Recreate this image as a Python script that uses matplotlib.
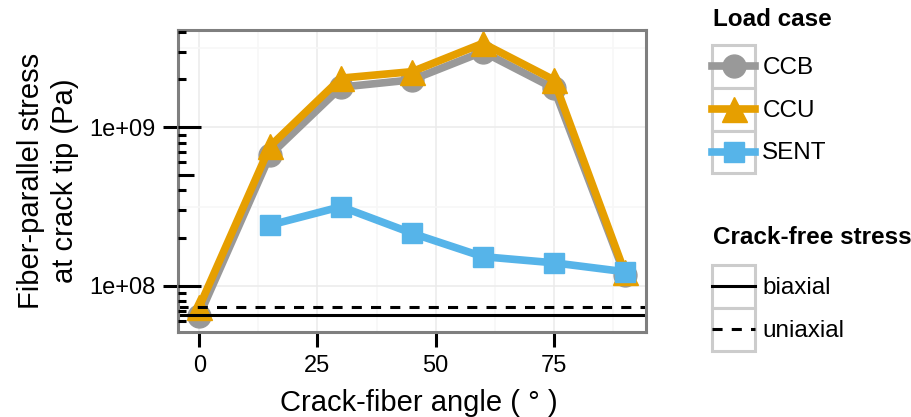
import numpy as np
import matplotlib
matplotlib.use("Agg")
import matplotlib.pyplot as plt
from matplotlib.lines import Line2D
from matplotlib.patches import Rectangle
from matplotlib.legend_handler import HandlerLine2D
from matplotlib.ticker import FixedLocator, FixedFormatter

plt.rcParams['font.family'] = ['Liberation Sans', 'DejaVu Sans']

# Data
angles = [0, 15, 30, 45, 60, 75, 90]
ccb = [6.5e7, 6.7e8, 1.79e9, 1.99e9, 2.99e9, 1.76e9, 1.18e8]
ccu = [7.4e7, 7.6e8, 2.04e9, 2.24e9, 3.38e9, 1.99e9, 1.22e8]
sent_angles = [15, 30, 45, 60, 75, 90]
sent = [2.42e8, 3.16e8, 2.15e8, 1.53e8, 1.40e8, 1.23e8]

load_cases = ["CCB", "CCU", "SENT"]
free_labels = ["biaxial", "uniaxial"]
free_stress = [6.57e7, 7.4e7]

x_ticks = [0, 25, 50, 75]
y_ticks = [1e8, 1e9]
y_ticklabels = ["1e+08", "1e+09"]

col_ccb = "#999999"
col_ccu = "#E69F00"
col_sent = "#56B4E9"


class BoxedLine(HandlerLine2D):
    # ggplot-like legend key: white box with grey border, line centred in it
    def create_artists(self, legend, orig_handle, xdescent, ydescent,
                       width, height, fontsize, trans):
        arts = super().create_artists(legend, orig_handle, xdescent, ydescent,
                                      width, height - ydescent, fontsize, trans)
        box = Rectangle((-xdescent, -ydescent), width, height, facecolor="white",
                        edgecolor="#cccccc", lw=2.2, transform=trans)
        return [box] + list(arts)


fig = plt.figure(figsize=(9.12, 4.17), dpi=100)
ax = fig.add_axes([178 / 912, 1 - 332 / 417, 468 / 912, 302 / 417])

ax.set_yscale("log")
ax.set_xlim(-4.5, 94.5)
ax.set_ylim(5.13e7, 4.1e9)

lw = 5.5
ax.plot(angles, ccb, color=col_ccb, lw=lw, marker="o", ms=16.5, zorder=3)
ax.plot(angles, ccu, color=col_ccu, lw=lw, marker="^", ms=18, zorder=4)
ax.plot(sent_angles, sent, color=col_sent, lw=lw, marker="s", ms=14.5, zorder=5)

ax.axhline(free_stress[0], color="black", lw=2.2, zorder=6)
ax.axhline(free_stress[1], color="black", lw=2.2, dashes=(3.3, 3), zorder=6)

# grid
ax.xaxis.set_major_locator(FixedLocator(x_ticks))
ax.xaxis.set_minor_locator(FixedLocator([12.5, 37.5, 62.5, 87.5]))
ax.yaxis.set_major_locator(FixedLocator(y_ticks))
ax.yaxis.set_major_formatter(FixedFormatter(y_ticklabels))
ax.yaxis.set_minor_locator(FixedLocator([10 ** 7.5, 10 ** 8.5, 10 ** 9.5]))
ax.grid(which="major", color="#ebebeb", lw=1.1)
ax.grid(which="minor", color="#f7f7f7", lw=1.1)
ax.set_axisbelow(True)

ax.tick_params(which="minor", length=0)
ax.tick_params(which="major", direction="out", length=10.5, width=2.2,
               color="black", labelsize=17)
ax.tick_params(axis="x", pad=6)
ax.tick_params(axis="y", pad=6)

for sp in ax.spines.values():
    sp.set_color("#7f7f7f")
    sp.set_linewidth(2.2)
    sp.set_zorder(10)

# log ticks on the left side (inside the panel)
ytr = ax.get_yaxis_transform()
pw = 468.0
for d in range(7, 10):
    for k in range(1, 10):
        v = k * 10 ** d
        if v < 5.13e7 or v > 4.1e9:
            continue
        L = 23 if k == 1 else (16 if k == 5 else 8)
        ax.plot([0, L / pw], [v, v], transform=ytr, color="black", lw=2.2,
                solid_capstyle="butt", clip_on=False, zorder=11)

ax.set_xlabel("Crack-fiber angle ( ° )", fontsize=21)
ax.xaxis.set_label_coords(0.515, -0.19)
ax.set_ylabel("Fiber-parallel stress\nat crack tip (Pa)", fontsize=21,
              labelpad=7, linespacing=1.3)

# legends
h1 = [Line2D([], [], color=col_ccb, lw=lw, marker="o", ms=16.5),
      Line2D([], [], color=col_ccu, lw=lw, marker="^", ms=18),
      Line2D([], [], color=col_sent, lw=lw, marker="s", ms=14.5)]
h2 = [Line2D([], [], color="black", lw=2.2),
      Line2D([], [], color="black", lw=2.2, dashes=(3.3, 3))]

common = dict(frameon=False, loc="upper left", fontsize=17.5, borderpad=0,
              labelspacing=0, handlelength=1.77, handleheight=2.33,
              handletextpad=0.3, borderaxespad=0,
              handler_map={Line2D: BoxedLine()})
fig.legend(h1, load_cases, bbox_to_anchor=(712 / 912, 1 - 45 / 417), **common)
fig.legend(h2, free_labels, bbox_to_anchor=(712 / 912, 1 - 265 / 417), **common)

fig.text(713 / 912, 1 - 20 / 417, "Load case", fontsize=17.5, weight="bold",
         va="center", ha="left")
fig.text(713 / 912, 1 - 237 / 417, "Crack-free stress", fontsize=17.5,
         weight="bold", va="center", ha="left")

fig.savefig("out.png", dpi=100)
